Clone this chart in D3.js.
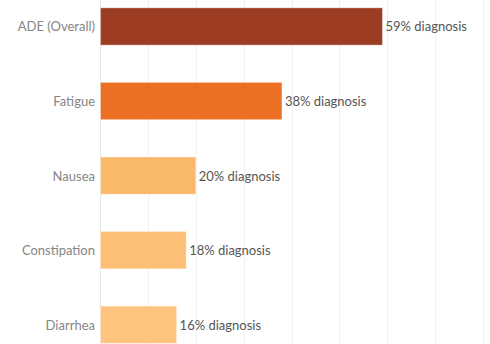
<!DOCTYPE html>
<html><head><meta charset="utf-8">
<script src="https://cdn.jsdelivr.net/npm/d3@7"></script>
<style>body{margin:0;background:#fff}svg{display:block}</style>
</head><body>
<script>
const categories = ["ADE (Overall)", "Fatigue", "Nausea", "Constipation", "Diarrhea"];
const values = [59, 38, 20, 18, 16];
const colors = ["#9c3d23", "#ec7024", "#f9b86a", "#fdbe76", "#fec47f"];
const gridTicks = [0, 10, 20, 30, 40, 50, 60, 70, 80];

const W = 490, H = 344;
const svg = d3.select("body").append("svg").attr("width", W).attr("height", H);
const x = d3.scaleLinear().domain([0, 80]).range([100, 483]);
const y = d3.scaleBand().domain(categories).range([-10.8, 362]).paddingInner(0.5).paddingOuter(0.25);

svg.append("g").selectAll("line").data(gridTicks).join("line")
  .attr("x1", d => Math.round(x(d)) + 0.5).attr("x2", d => Math.round(x(d)) + 0.5)
  .attr("y1", 0).attr("y2", H)
  .attr("stroke", d => d === 0 ? "#e6e6e6" : "#f0f0f0").attr("stroke-width", 1);

svg.append("g").selectAll("rect").data(categories).join("rect")
  .attr("x", x(0) + 0.5)
  .attr("y", d => y(d))
  .attr("width", (d, i) => x(values[i]) - x(0) - 0.5)
  .attr("height", y.bandwidth())
  .attr("fill", (d, i) => colors[i])
  .attr("stroke", "rgba(255,255,255,0.35)").attr("stroke-width", 1);

svg.append("g").selectAll("text").data(categories).join("text")
  .attr("x", 95).attr("y", d => y(d) + y.bandwidth() / 2)
  .attr("text-anchor", "end").attr("dominant-baseline", "central")
  .attr("font-family", "Lato, 'Open Sans', sans-serif").attr("font-size", 13)
  .attr("fill", "#858585").text(d => d);

svg.append("g").selectAll("text").data(categories).join("text")
  .attr("x", (d, i) => x(values[i]) + 3).attr("y", d => y(d) + y.bandwidth() / 2)
  .attr("dominant-baseline", "central")
  .attr("font-family", "Lato, 'Open Sans', sans-serif").attr("font-size", 13)
  .attr("fill", "#555").text((d, i) => values[i] + "% diagnosis");
</script>
</body></html>
